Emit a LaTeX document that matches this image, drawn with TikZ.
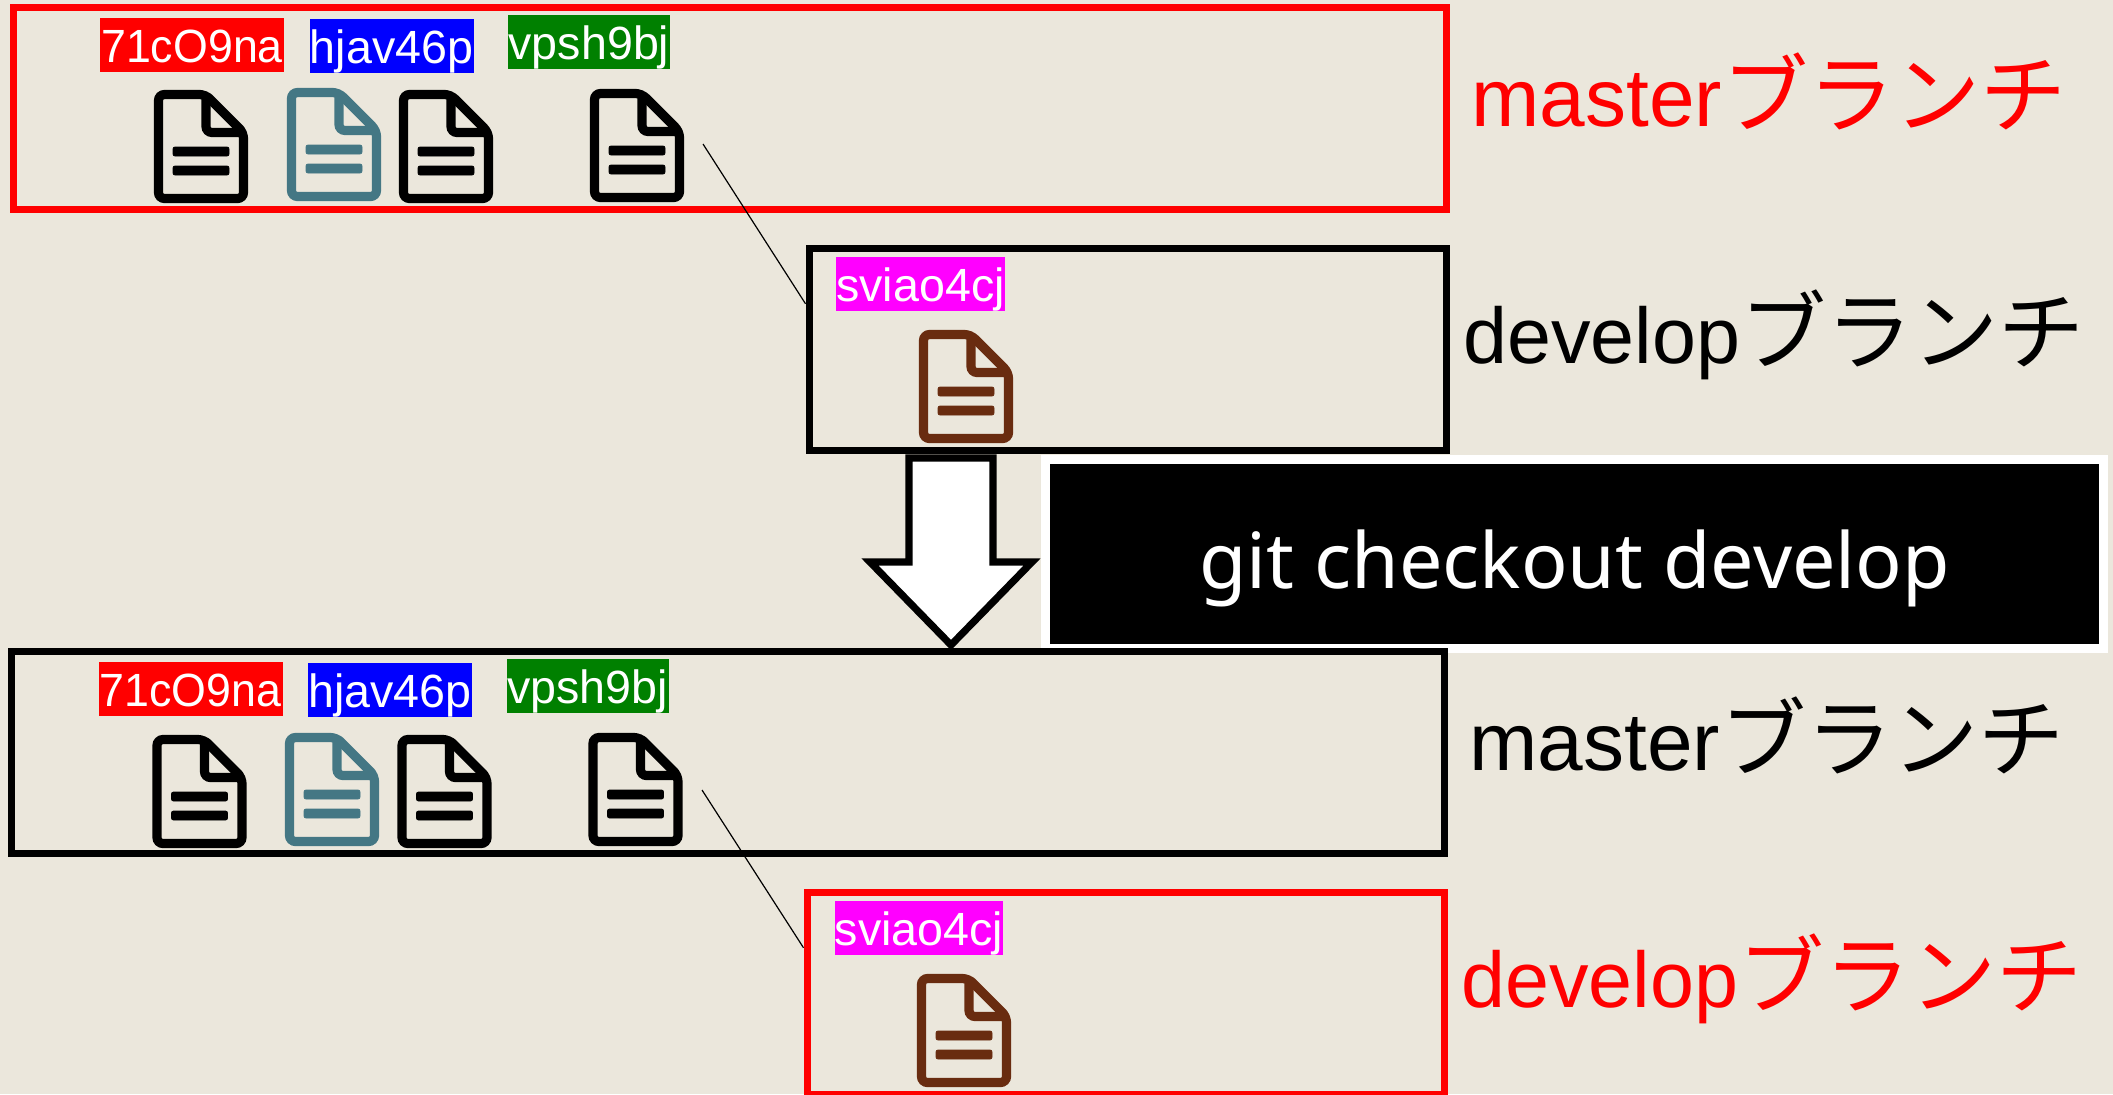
\documentclass[tikz,border=0pt]{standalone}
\usepackage{graphicx}
\usepackage{fontspec}
\setmainfont{Liberation Sans}
\newfontfamily\cjk{Noto Sans CJK JP}
\newfontfamily\cmdfont{Noto Sans}
\usetikzlibrary{positioning}

\definecolor{paper}{HTML}{EBE7DC}
\definecolor{tealicon}{HTML}{447784}
\definecolor{brownicon}{HTML}{692C10}
\definecolor{taggreen}{HTML}{008000}
\definecolor{tagpink}{HTML}{FF00FF}

\newcommand{\narrowtag}[1]{\scalebox{0.96}[1]{#1}}

\tikzset{
  branchbox/.style={draw=#1, line width=3.5pt, inner sep=0pt},
  committag/.style={fill=#1, text=white, inner sep=0pt, minimum width=82pt, text height=22pt, text depth=5pt, font=\fontsize{23.3}{24}\selectfont},
  branchlabel/.style={text=#1, anchor=base west, inner sep=0pt, font=\fontsize{41}{44}\selectfont},
  pics/fileicon/.style={code={
    \draw[#1, line width=4.6pt, rounded corners=3pt] (4.5,4.5) -- (51.5,4.5) -- (89.5,42.5) -- (89.5,108.5) -- (4.5,108.5) -- cycle;
    \draw[#1, line width=4.6pt, rounded corners=3pt] (52,6) -- (52,42.5) -- (88,42.5);
    \draw[#1, fill=#1, rounded corners=1pt] (19,57) rectangle (75,66);
    \draw[#1, fill=#1, rounded corners=1pt] (19,76) rectangle (75,85);
  }}
}

\begin{document}
\begin{tikzpicture}[x=0.5pt, y=-0.5pt]
    \fill[paper] (0,0) rectangle (2113,1094);
    \useasboundingbox (0,0) rectangle (2113,1094);

    % top half
    \node[branchbox=red, minimum width=716.5pt, minimum height=101pt] (masterA) at (729.5,108) {};
    \node[branchbox=black, minimum width=318.5pt, minimum height=101pt] (developA) at (1127.5,349) {};

    \node[committag=red, minimum width=92pt] (tagA1) at (192,45) {\narrowtag{71cO9na}};
    \node[committag=blue] (tagA2) at (391.5,46) {hjav46p};
    \node[committag=taggreen, minimum width=81pt] (tagA3) at (589,42) {vpsh9bj};
    \node[committag=tagpink, minimum width=83.5pt] (tagA4) at (920.5,284) {sviao4cj};

    \pic at (154,90) {fileicon=black};
    \pic at (287,88) {fileicon=tealicon};
    \pic at (399,90) {fileicon=black};
    \pic at (590,89) {fileicon=black};
    \pic at (919,330) {fileicon=brownicon};

    \coordinate (forkA) at (703,144);
    \draw[line width=0.6pt] (forkA) -- (developA.172.5);

    \node[branchlabel=red] (labelA1) at (1471,126) {master{\cjk\fontsize{43}{44}\selectfont ブランチ}};
    \node[branchlabel=black] (labelA2) at (1463,363) {{\fontsize{39.5}{44}\selectfont develop}{\cjk\fontsize{43}{44}\selectfont ブランチ}};

    % arrow and command
    \draw[line width=3.6pt, fill=white, miter limit=10] (909,458) -- (993,458) -- (993,562) -- (1032,562) -- (951,645) -- (870,562) -- (909,562) -- cycle;
    \node[fill=black, draw=white, line width=4.5pt, minimum width=529pt, minimum height=94.5pt, inner sep=0pt, text=white, text height=34pt, text depth=0pt, font=\cmdfont\fontsize{38.6}{40}\selectfont] (cmd) at (1574.5,554) {git checkout develop};

    % bottom half
    \node[branchbox=black, minimum width=716.5pt, minimum height=101pt] (masterB) at (727.5,752) {};
    \node[branchbox=red, minimum width=318.5pt, minimum height=101pt] (developB) at (1125.5,993) {};

    \node[committag=red, minimum width=92pt] (tagB1) at (190.5,689) {\narrowtag{71cO9na}};
    \node[committag=blue] (tagB2) at (390,690) {hjav46p};
    \node[committag=taggreen, minimum width=81pt] (tagB3) at (587.5,686) {vpsh9bj};
    \node[committag=tagpink, minimum width=83.5pt] (tagB4) at (919,928) {sviao4cj};

    \pic at (152.5,735) {fileicon=black};
    \pic at (285,733) {fileicon=tealicon};
    \pic at (397.5,735) {fileicon=black};
    \pic at (588.5,733) {fileicon=black};
    \pic at (917,974) {fileicon=brownicon};

    \coordinate (forkB) at (702,790);
    \draw[line width=0.6pt] (forkB) -- (developB.172.5);

    \node[branchlabel=black] (labelB1) at (1469,770) {master{\cjk\fontsize{43}{44}\selectfont ブランチ}};
    \node[branchlabel=red] (labelB2) at (1461,1007) {{\fontsize{39.5}{44}\selectfont develop}{\cjk\fontsize{43}{44}\selectfont ブランチ}};
\end{tikzpicture}
\end{document}
